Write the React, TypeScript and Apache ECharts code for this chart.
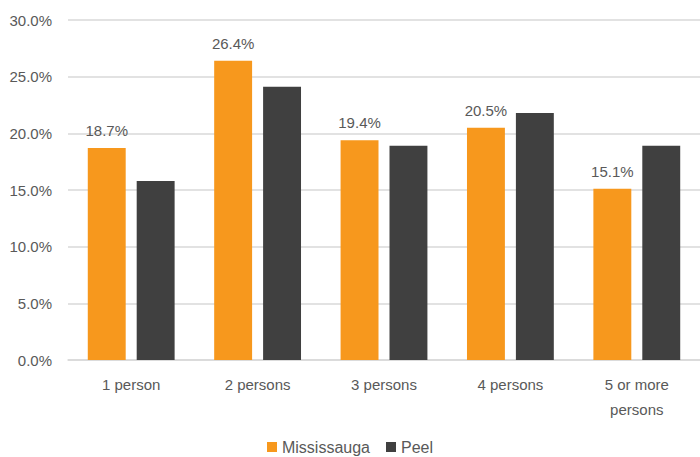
import React, { useEffect, useRef } from "react";
import * as echarts from "echarts";

const categories = ["1 person", "2 persons", "3 persons", "4 persons", "5 or more\npersons"];
const mississauga = [18.7, 26.4, 19.4, 20.5, 15.1];
const peel = [15.8, 24.1, 18.9, 21.8, 18.9];
const yTicks = { min: 0, max: 30, interval: 5 };

export default function App() {
  const ref = useRef<HTMLDivElement>(null);
  useEffect(() => {
    const chart = echarts.init(ref.current!, null, { renderer: "svg" });
    const font = "Liberation Sans";
    chart.setOption({
      animation: false,
      textStyle: { fontFamily: font },
      grid: { left: 68, right: 0, top: 20, bottom: 97 },
      legend: {
        bottom: -3,
        left: "center",
        itemWidth: 10,
        itemHeight: 10,
        itemGap: 16,
        icon: "rect",
        textStyle: { color: "#595959", fontSize: 16, fontFamily: font },
        data: ["Mississauga", "Peel"],
      },
      xAxis: {
        type: "category",
        data: categories,
        axisLine: { lineStyle: { color: "#d9d9d9", width: 1.5 } },
        axisTick: { show: false },
        axisLabel: { color: "#595959", fontSize: 15, margin: 12, lineHeight: 25, fontFamily: font },
      },
      yAxis: {
        type: "value",
        min: yTicks.min,
        max: yTicks.max,
        interval: yTicks.interval,
        axisLine: { show: false },
        axisTick: { show: false },
        splitLine: { lineStyle: { color: "#d9d9d9", width: 1.5 } },
        axisLabel: {
          color: "#595959",
          fontSize: 15,
          margin: 16,
          fontFamily: font,
          formatter: (v: number) => v.toFixed(1) + "%",
        },
      },
      series: [
        {
          name: "Mississauga",
          type: "bar",
          data: mississauga,
          barWidth: "30%",
          barGap: "29%",
          itemStyle: { color: "#F7981D" },
          label: {
            show: true,
            position: "top",
            distance: 10,
            color: "#595959",
            fontSize: 15,
            fontFamily: font,
            formatter: (p: any) => p.value.toFixed(1) + "%",
          },
        },
        {
          name: "Peel",
          type: "bar",
          data: peel,
          barWidth: "30%",
          barGap: "29%",
          itemStyle: { color: "#404040" },
        },
      ],
    });
    return () => chart.dispose();
  }, []);
  return <div ref={ref} style={{ width: 700, height: 457, position: "absolute", left: 0, top: 0, background: "#fff" }} />;
}
